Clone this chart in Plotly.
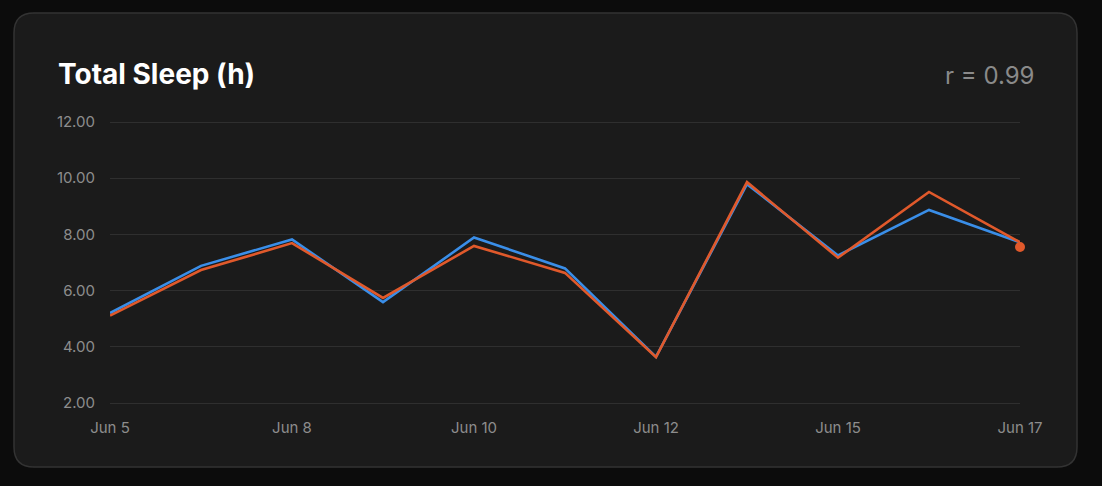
import plotly.graph_objects as go

# ---- data ----
dates = ["Jun 5", "Jun 6", "Jun 8", "Jun 9", "Jun 10", "Jun 11",
         "Jun 12", "Jun 13", "Jun 15", "Jun 16", "Jun 17"]
series_a = [5.20, 6.88, 7.82, 5.59, 7.89, 6.79, 3.64, 9.79, 7.25, 8.87, 7.72]
series_b = [5.11, 6.73, 7.69, 5.74, 7.59, 6.63, 3.63, 9.86, 7.17, 9.51, 7.72]
latest_b = 7.55
y_ticks = [2, 4, 6, 8, 10, 12]
x_tick_labels = dates[::2]
title_text = "Total Sleep (h)"
corr_text = "r = 0.99"

W, H = 1102, 486
BLUE = "#3a8ee8"
ORANGE = "#e0592b"
TICK = "#8d8d8d"
GRID = "#2f2f2f"

def px(x):
    return x / W

def py(y):
    return 1 - y / H

fig = go.Figure()
fig.add_trace(go.Scatter(x=dates, y=series_a, mode="lines",
                         line=dict(color=BLUE, width=2.6), hoverinfo="skip"))
fig.add_trace(go.Scatter(x=dates, y=series_b, mode="lines",
                         line=dict(color=ORANGE, width=2.6), hoverinfo="skip"))
fig.add_trace(go.Scatter(x=[dates[-1]], y=[latest_b], mode="markers",
                         marker=dict(color=ORANGE, size=10), hoverinfo="skip",
                         cliponaxis=False))

# card background with rounded corners (paper coords = full figure)
L, R, T, B, r = 14, 1077, 13, 467, 20
rx, ry = r / W, r / H
x0, x1, y0, y1 = px(L), px(R), py(B), py(T)
path = (f"M {x0+rx},{y1} L {x1-rx},{y1} Q {x1},{y1} {x1},{y1-ry} "
        f"L {x1},{y0+ry} Q {x1},{y0} {x1-rx},{y0} "
        f"L {x0+rx},{y0} Q {x0},{y0} {x0},{y0+ry} "
        f"L {x0},{y1-ry} Q {x0},{y1} {x0+rx},{y1} Z")
fig.add_shape(type="path", path=path, xref="paper", yref="paper",
              fillcolor="#1b1b1b", line=dict(color="#333333", width=1.5),
              layer="below")

fig.add_annotation(text=title_text, xref="paper", yref="paper",
                   x=px(56), y=py(74), xanchor="left", yanchor="middle",
                   showarrow=False,
                   font=dict(family="Inter", size=28, color="#ffffff", weight=700))
fig.add_annotation(text=corr_text, xref="paper", yref="paper",
                   x=px(1036), y=py(75), xanchor="right", yanchor="middle",
                   showarrow=False,
                   font=dict(family="Inter", size=24, color="#8a8a8a"))

# y range padded slightly so the edge grid lines (2 and 12) are drawn
pad_u = 0.06
upx = (403 - 122) / 10.0
fig.update_layout(
    template="none",
    width=W, height=H,
    margin=dict(l=0, r=0, t=0, b=0, pad=0, autoexpand=False),
    paper_bgcolor="#0c0c0c",
    plot_bgcolor="rgba(0,0,0,0)",
    showlegend=False,
    hovermode=False,
    font=dict(family="Inter", color=TICK, size=15),
    xaxis=dict(domain=[px(110), px(1020)], type="category",
               categoryorder="array", categoryarray=dates,
               range=[0, len(dates) - 1], automargin=False,
               tickvals=x_tick_labels, ticktext=x_tick_labels,
               showgrid=False, zeroline=False, showline=False,
               ticks="", ticklabelstandoff=12,
               tickfont=dict(size=15, color=TICK)),
    yaxis=dict(domain=[py(403 + pad_u * upx), py(122 - pad_u * upx)],
               range=[2 - pad_u, 12 + pad_u],
               automargin=False,
               tickvals=y_ticks, tickformat=".2f",
               showgrid=True, gridcolor=GRID, gridwidth=1,
               zeroline=False, showline=False, ticks="",
               ticklabelstandoff=14,
               tickfont=dict(size=15, color=TICK)),
)

fig.write_html(
    "out.html",
    config={"displayModeBar": False, "staticPlot": True},
    post_script="document.body.style.margin='0';"
                "document.body.style.background='#0c0c0c';"
                "document.body.style.overflow='hidden';",
)
